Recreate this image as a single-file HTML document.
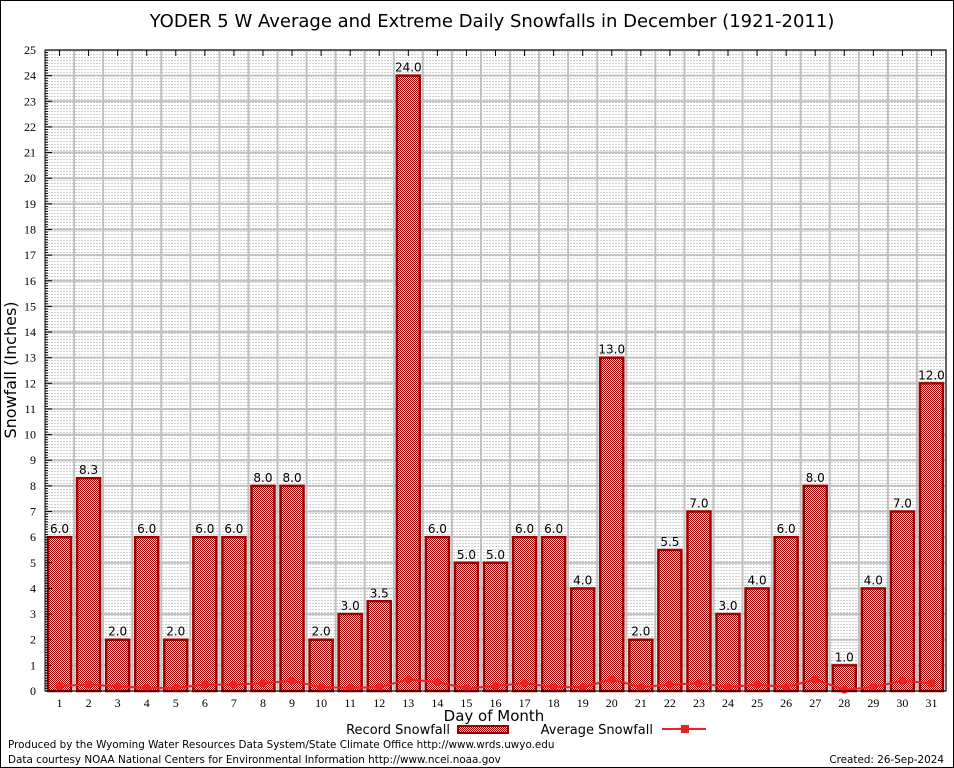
<!DOCTYPE html>
<html><head><meta charset="utf-8"><style>
body{margin:0;background:#fff}
svg{display:block;font-family:"DejaVu Sans","Liberation Sans",sans-serif}
</style></head><body>
<svg id="c" width="954" height="768" xmlns="http://www.w3.org/2000/svg">
<defs>
<pattern id="chk" width="2" height="2" patternUnits="userSpaceOnUse"><rect width="2" height="2" fill="#f4d0d0"/><rect width="1" height="1" fill="#a00000"/><rect x="1" y="1" width="1" height="1" fill="#a00000"/></pattern>
<pattern id="dots" width="3" height="3" patternUnits="userSpaceOnUse"><rect width="3" height="3" fill="#fff"/><rect width="2" height="1" fill="#d0d0d0"/></pattern>
</defs>
<rect x="0.5" y="0.5" width="953" height="767" fill="#fff" stroke="#000"/>
<text x="492" y="27" font-size="18" text-anchor="middle">YODER 5 W Average and Extreme Daily Snowfalls in December (1921-2011)</text>
<rect x="45" y="50" width="901" height="641" fill="url(#dots)"/>
<g id="grid"></g>
<g id="bars"></g>
<g id="avg"></g>
<g id="axes"></g>
<text x="16" y="370" font-size="16" text-anchor="middle" transform="rotate(-90 16 370)">Snowfall (Inches)</text>
<text x="494" y="721" font-size="15" text-anchor="middle">Day of Month</text>
<g font-size="13">
<text x="450" y="734" text-anchor="end">Record Snowfall</text>
<rect x="458" y="726" width="50" height="7" fill="url(#chk)" stroke="#a00000" stroke-width="2"/>
<text x="653" y="734" text-anchor="end">Average Snowfall</text>
<line x1="662" y1="729" x2="706" y2="729" stroke="#f02020" stroke-width="2"/>
<rect x="681" y="725" width="8" height="8" fill="#f02020"/>
</g>
<text x="8" y="748" font-size="10.4">Produced by the Wyoming Water Resources Data System/State Climate Office http://www.wrds.uwyo.edu</text>
<text x="8" y="763" font-size="10.4">Data courtesy NOAA National Centers for Environmental Information http://www.ncei.noaa.gov</text>
<text x="944" y="763" font-size="10.4" text-anchor="end">Created: 26-Sep-2024</text>
</svg>
<script>
const days=[1,2,3,4,5,6,7,8,9,10,11,12,13,14,15,16,17,18,19,20,21,22,23,24,25,26,27,28,29,30,31];
const recordValues=[6.0,8.3,2.0,6.0,2.0,6.0,6.0,8.0,8.0,2.0,3.0,3.5,24.0,6.0,5.0,5.0,6.0,6.0,4.0,13.0,2.0,5.5,7.0,3.0,4.0,6.0,8.0,1.0,4.0,7.0,12.0];
const averageValues=[0.2,0.25,0.18,0.12,0.12,0.25,0.25,0.3,0.4,0.15,0.12,0.15,0.45,0.35,0.1,0.2,0.3,0.15,0.15,0.45,0.15,0.25,0.3,0.15,0.25,0.15,0.45,0.05,0.15,0.4,0.3];
const yTicks=[0,1,2,3,4,5,6,7,8,9,10,11,12,13,14,15,16,17,18,19,20,21,22,23,24,25];
const NS="http://www.w3.org/2000/svg";
const L=45,R=946,T=50,B=691,YMAX=25;
const bw=(R-L)/days.length;
const y=v=>B-(v/YMAX)*(B-T);
const x=i=>L+bw*(i+0.5);
function mk(tag,attrs,parent,txt){const e=document.createElementNS(NS,tag);for(const k in attrs)e.setAttribute(k,attrs[k]);if(txt!==undefined)e.textContent=txt;parent.appendChild(e);return e;}
const grid=document.getElementById('grid'),bars=document.getElementById('bars'),avg=document.getElementById('avg'),axes=document.getElementById('axes');
yTicks.forEach(t=>{
  const g=mk('line',{x1:L,x2:R,y1:y(t),y2:y(t),stroke:'#c0c0c0','stroke-width':2},grid);
  
  
  const tl=mk('text',{x:36,y:y(t)+4,'font-size':12,'text-anchor':'end','font-family':'Liberation Serif, serif'},axes,String(t));
  
  
  const tk=mk('line',{x1:L,x2:L+7,y1:y(t),y2:y(t),stroke:'#000'},axes);
  
  
  if(t<YMAX){for(let m=1;m<10;m++){const mm=mk('line',{x1:L,x2:L+3,y1:y(t+m/10),y2:y(t+m/10),stroke:'#000'},axes);}}
});
days.forEach((d,i)=>{
  const gx=L+bw*(i+1);
  const g=mk('line',{x1:gx,x2:gx,y1:T,y2:B,stroke:'#c0c0c0','stroke-width':2},grid);
  
  
  const tk=mk('line',{x1:x(i),x2:x(i),y1:T,y2:T+6,stroke:'#000'},axes);
  
  
  const v=recordValues[i];
  const b=mk('rect',{x:x(i)-11.5,y:y(v),width:23,height:B-y(v),fill:'url(#chk)',stroke:'#a00000','stroke-width':2.5},bars);
  
  
  const lb=mk('text',{x:x(i),y:y(v)-4,'font-size':12,'text-anchor':'middle'},bars,v.toFixed(1));
  
  
  const xl=mk('text',{x:x(i),y:707,'font-size':12,'text-anchor':'middle','font-family':'Liberation Serif, serif'},axes,String(d));
  
  
});
const pts=averageValues.map((v,i)=>x(i)+','+y(v)).join(' ');
const pl=mk('polyline',{points:pts,fill:'none',stroke:'#f02020','stroke-width':2},avg);


averageValues.forEach((v,i)=>{
  const p=mk('circle',{cx:x(i),cy:y(v),r:4,fill:'#f02020'},avg);
  
  
});
const ax=mk('rect',{x:L,y:T,width:R-L,height:B-T,fill:'none',stroke:'#000'},axes);


</script>
</body></html>
